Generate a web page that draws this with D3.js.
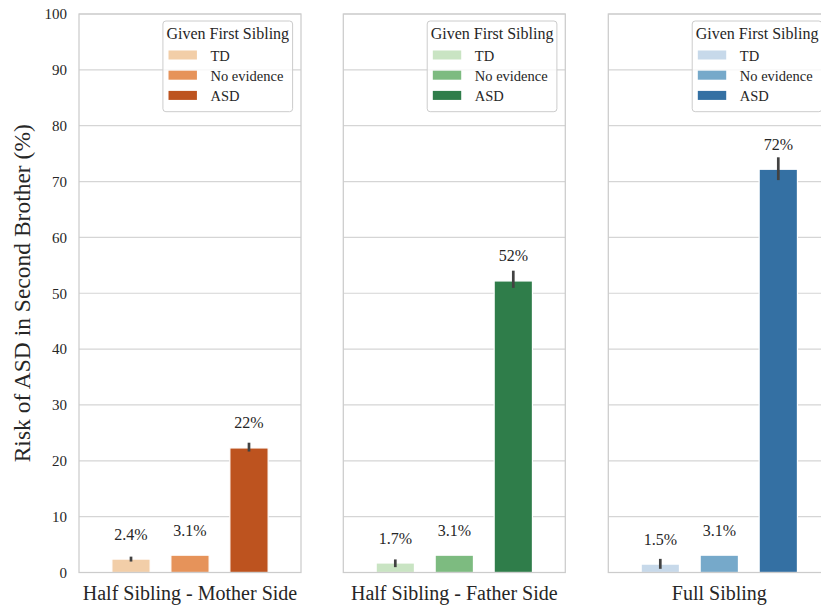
<!DOCTYPE html>
<html>
<head>
<meta charset="utf-8">
<script src="https://cdn.jsdelivr.net/npm/d3@7"></script>
<style>
  html, body { margin: 0; padding: 0; background: #ffffff; }
  svg text { font-family: "Liberation Serif", "DejaVu Serif", serif; fill: #262626; }
</style>
</head>
<body>
<svg id="chart" width="821" height="607"></svg>
<script>
// Sibling relation shown in each panel
const panels = ["Half Sibling - Mother Side", "Half Sibling - Father Side", "Full Sibling"];
// Status of the first sibling (hue)
const groups = ["TD", "No evidence", "ASD"];

// Risk of ASD in the second brother (%), per panel, ordered as groups
const riskMother = [2.4, 3.1, 22.3];
const riskFather = [1.7, 3.1, 52.2];
const riskFull   = [1.5, 3.1, 72.2];

// Confidence interval bounds (%); null where no interval is drawn
const ciLowMother  = [2.2, null, 21.9];
const ciHighMother = [2.6, null, 23.0];
const ciLowFather  = [1.2, null, 51.2];
const ciHighFather = [2.1, null, 53.8];
const ciLowFull    = [0.9, null, 70.5];
const ciHighFull   = [2.2, null, 74.1];

// Y axis ticks
const yTicks = [0, 10, 20, 30, 40, 50, 60, 70, 80, 90, 100];

// Palettes per panel (light -> dark)
const colorsMother = ["#f2cea8", "#e6935a", "#bd531f"];
const colorsFather = ["#c9e4c3", "#7dbb80", "#2f7d4a"];
const colorsFull   = ["#c7d9ea", "#76a9ca", "#3470a3"];

const panelData = [
  { title: panels[0], values: riskMother, lo: ciLowMother, hi: ciHighMother, colors: colorsMother },
  { title: panels[1], values: riskFather, lo: ciLowFather, hi: ciHighFather, colors: colorsFather },
  { title: panels[2], values: riskFull,   lo: ciLowFull,   hi: ciHighFull,   colors: colorsFull }
];

const svg = d3.select("#chart");
const serif = '"Liberation Serif", "DejaVu Serif", serif';

const plotTop = 14, plotBottom = 572.5;
const panelW = 222;
const panelLefts = [79, 343.3, 608.3];

const y = d3.scaleLinear().domain([0, 100]).range([plotBottom, plotTop]);
const fmt = v => d3.format(".2~r")(v) + "%";

panelData.forEach((p, i) => {
  const g = svg.append("g").attr("transform", `translate(${panelLefts[i]},0)`);
  const x = d3.scaleBand().domain(groups).range([0, panelW])
    .paddingInner(0.351).paddingOuter(0.557);

  // horizontal grid
  g.append("g").selectAll("line").data(yTicks).join("line")
    .attr("x1", 0).attr("x2", panelW)
    .attr("y1", d => y(d)).attr("y2", d => y(d))
    .attr("stroke", "#d5d5d5").attr("stroke-width", 1.2);

  // bars
  g.append("g").selectAll("rect").data(groups).join("rect")
    .attr("x", d => x(d))
    .attr("width", x.bandwidth())
    .attr("y", (d, j) => y(p.values[j]))
    .attr("height", (d, j) => y(0) - y(p.values[j]))
    .attr("fill", (d, j) => p.colors[j])
    .attr("stroke", "#ffffff").attr("stroke-width", 1.2);

  // error bars
  g.append("g").selectAll("line").data(groups.filter((d, j) => p.lo[j] !== null)).join("line")
    .attr("x1", d => x(d) + x.bandwidth() / 2)
    .attr("x2", d => x(d) + x.bandwidth() / 2)
    .attr("y1", d => y(p.lo[groups.indexOf(d)]))
    .attr("y2", d => y(p.hi[groups.indexOf(d)]))
    .attr("stroke", "#424242").attr("stroke-width", 2.7)
    .attr("stroke-linecap", "square");

  // value labels
  g.append("g").selectAll("text").data(groups).join("text")
    .attr("x", d => x(d) + x.bandwidth() / 2)
    .attr("y", (d, j) => y(p.values[j]) - 19.5)
    .attr("text-anchor", "middle")
    .attr("font-family", serif)
    .attr("font-size", 16)
    .text((d, j) => fmt(p.values[j]));

  // frame
  g.append("rect")
    .attr("x", 0).attr("y", plotTop)
    .attr("width", panelW).attr("height", plotBottom - plotTop)
    .attr("fill", "none").attr("stroke", "#cccccc").attr("stroke-width", 1.25);

  // x category label
  g.append("text")
    .attr("x", panelW / 2).attr("y", 600)
    .attr("text-anchor", "middle")
    .attr("font-family", serif)
    .attr("font-size", 20)
    .text(p.title);

  // y axis only on first panel
  if (i === 0) {
    const yAxis = d3.axisLeft(y).tickValues(yTicks).tickSize(0).tickPadding(12);
    const ax = g.append("g").call(yAxis).attr("font-family", serif);
    ax.select(".domain").remove();
    ax.selectAll("text").attr("font-size", 15).attr("fill", "#262626")
      .style("font-family", serif);
  }

  // legend
  const leg = g.append("g").attr("font-family", serif);
  const box = leg.append("rect")
    .attr("y", 21).attr("rx", 3).attr("ry", 3)
    .attr("fill", "#ffffff").attr("fill-opacity", 0.8)
    .attr("stroke", "#cccccc").attr("stroke-width", 1);
  const title = leg.append("text")
    .attr("y", 39).attr("text-anchor", "middle")
    .attr("font-size", 16)
    .text("Given First Sibling");
  const tw = title.node().getComputedTextLength();
  const boxW = tw + 7;
  const boxX = panelW - 8.4 - boxW;
  box.attr("x", boxX).attr("width", boxW).attr("height", 90.7);
  title.attr("x", boxX + boxW / 2);

  groups.forEach((name, j) => {
    const cy = 55 + j * 20.2;
    leg.append("rect")
      .attr("x", boxX + 5.6).attr("y", cy - 4.5)
      .attr("width", 28.4).attr("height", 9)
      .attr("fill", p.colors[j]);
    leg.append("text")
      .attr("x", boxX + 47.6).attr("y", cy + 5.7)
      .attr("font-size", 14.5)
      .text(name);
  });
});

// y axis title
svg.append("text")
  .attr("transform", `translate(30,${(plotTop + plotBottom) / 2}) rotate(-90)`)
  .attr("text-anchor", "middle")
  .attr("font-family", serif)
  .attr("font-size", 23.5)
  .text("Risk of ASD in Second Brother (%)");
</script>
</body>
</html>
